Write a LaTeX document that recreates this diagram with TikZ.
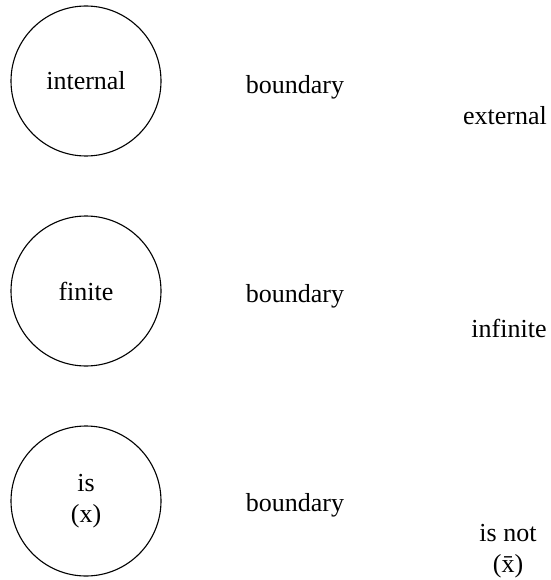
\documentclass[tikz,border=0pt]{standalone}
\usepackage{fontspec}
\setmainfont{Liberation Serif}
\begin{document}
\begin{tikzpicture}[x=1pt,y=-1pt,
  ring/.style={circle,draw,line width=1.1pt,minimum size=150pt,inner sep=0pt,align=center,font=\fontsize{26}{31}\selectfont},
  lbl/.style={inner sep=0pt,align=center,font=\fontsize{26}{31}\selectfont}]
\useasboundingbox (0,0) rectangle (550,580);
\node[ring] (c1) at (86,81) {internal};
\node[ring] (c2) at (86,291) {finite};
\node[ring] (c3) at (86,501) {is\\(x)};
\node[lbl] (b1) at (295,87) {boundary};
\node[lbl] (b2) at (295,296) {boundary};
\node[lbl] (b3) at (295,505) {boundary};
\node[lbl] (e1) at (505,116) {external};
\node[lbl] (e2) at (509,328) {infinite};
\node[lbl] (e3) at (508,551) {is not\\(\=x)};
\end{tikzpicture}
\end{document}
